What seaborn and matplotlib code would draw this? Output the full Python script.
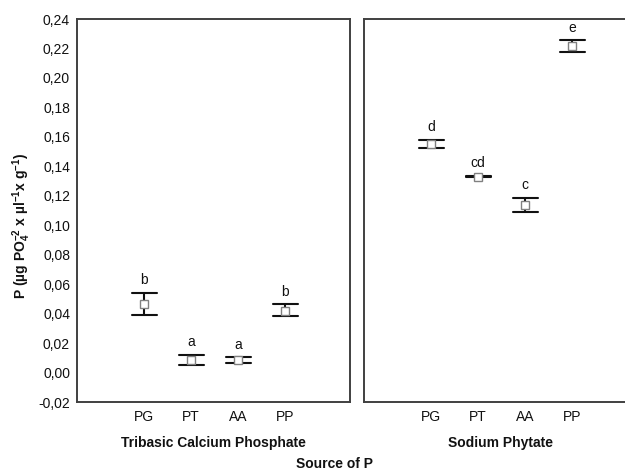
import numpy as np
import pandas as pd
import matplotlib
matplotlib.use("Agg")
import matplotlib.pyplot as plt
import seaborn as sns

# ---- data ----
sources = ["PG", "PT", "AA", "PP"]
groups = ["Tribasic Calcium Phosphate", "Sodium Phytate"]

tcp_mean = [0.0465, 0.0085, 0.0082, 0.0418]
tcp_lower = [0.0390, 0.0050, 0.0066, 0.0384]
tcp_upper = [0.0540, 0.0120, 0.0105, 0.0463]
tcp_letters = ["b", "a", "a", "b"]

sp_mean = [0.1551, 0.1330, 0.1135, 0.2219]
sp_lower = [0.1522, 0.1325, 0.1092, 0.2174]
sp_upper = [0.1579, 0.1335, 0.1187, 0.2257]
sp_letters = ["d", "cd", "c", "e"]

y_ticks = [-0.02, 0.00, 0.02, 0.04, 0.06, 0.08, 0.10, 0.12, 0.14, 0.16, 0.18, 0.20, 0.22, 0.24]

sns.set_theme(style="white")
plt.rcParams["font.family"] = ["Liberation Sans", "DejaVu Sans"]
plt.rcParams["mathtext.fontset"] = "custom"
plt.rcParams["mathtext.rm"] = "Liberation Sans:bold"
plt.rcParams["mathtext.bf"] = "Liberation Sans:bold"
plt.rcParams["mathtext.it"] = "Liberation Sans:bold"
plt.rcParams["mathtext.default"] = "bf"

fig = plt.figure(figsize=(6.25, 4.71), dpi=100)
W, H = 625, 471
ax1 = fig.add_axes([77 / W, 1 - 402 / H, 272.5 / W, 383 / H])
ax2 = fig.add_axes([364 / W, 1 - 402 / H, 272.5 / W, 383 / H])

panels = [
    (ax1, tcp_mean, tcp_lower, tcp_upper, tcp_letters, groups[0]),
    (ax2, sp_mean, sp_lower, sp_upper, sp_letters, groups[1]),
]

line_col = "#111111"
spine_col = "#404040"

for ax, mean, lo, hi, letters, gname in panels:
    # long table: lower / mean / upper per source; median -> mean, 100% interval -> lower..upper
    rows = []
    for s, m, l, u in zip(sources, mean, lo, hi):
        rows += [(s, l), (s, m), (s, u)]
    df = pd.DataFrame(rows, columns=["source", "P"])
    sns.pointplot(data=df, x="source", y="P", order=sources, estimator="median",
                  errorbar=("pi", 100), capsize=0.53, color=line_col,
                  markers="s", linestyles="none", markersize=5.5,
                  err_kws={"linewidth": 1.5}, ax=ax)
    for ln in ax.lines:
        if ln.get_marker() == "s":
            ln.set_markerfacecolor("white")
            ln.set_markeredgecolor("#808080")
            ln.set_markeredgewidth(1.0)
            ln.set_zorder(5)
    for i, (u, t) in enumerate(zip(hi, letters)):
        ax.annotate(t, (i, u), xytext=(0, 4), textcoords="offset points",
                    ha="center", va="bottom", fontsize=10, color="#111111")
    ax.set_xlim(-1.43, 4.37)
    ax.set_ylim(-0.02, 0.24)
    ax.set_yticks(y_ticks)
    ax.set_xlabel("")
    ax.set_ylabel("")
    ax.tick_params(axis="both", length=0, labelsize=10, colors="#111111")
    ax.tick_params(axis="x", pad=6)
    ax.tick_params(axis="y", pad=5)
    for sp in ax.spines.values():
        sp.set_color(spine_col)
        sp.set_linewidth(1.4)
    ax.grid(False)

ax1.set_yticklabels([f"{v:.2f}".replace(".", ",") for v in y_ticks])
ax2.set_yticklabels([])

fig.text((77 + 349.5) / 2 / W, 1 - 443 / H, groups[0], ha="center", va="center",
         fontsize=10, fontweight="bold", color="#111111")
fig.text((364 + 636) / 2 / W, 1 - 443 / H, groups[1], ha="center", va="center",
         fontsize=10, fontweight="bold", color="#111111")
fig.text(335 / W, 1 - 464 / H, "Source of P", ha="center", va="center",
         fontsize=10, fontweight="bold", color="#111111")
fig.text(22 / W, 1 - 226 / H,
         r"P (µg PO$_{4}^{-2}$ x µl$^{-1}$x g$^{-1}$)",
         rotation=90, ha="center", va="center", fontsize=10, fontweight="bold",
         color="#111111")

fig.savefig("out.png", dpi=100)
